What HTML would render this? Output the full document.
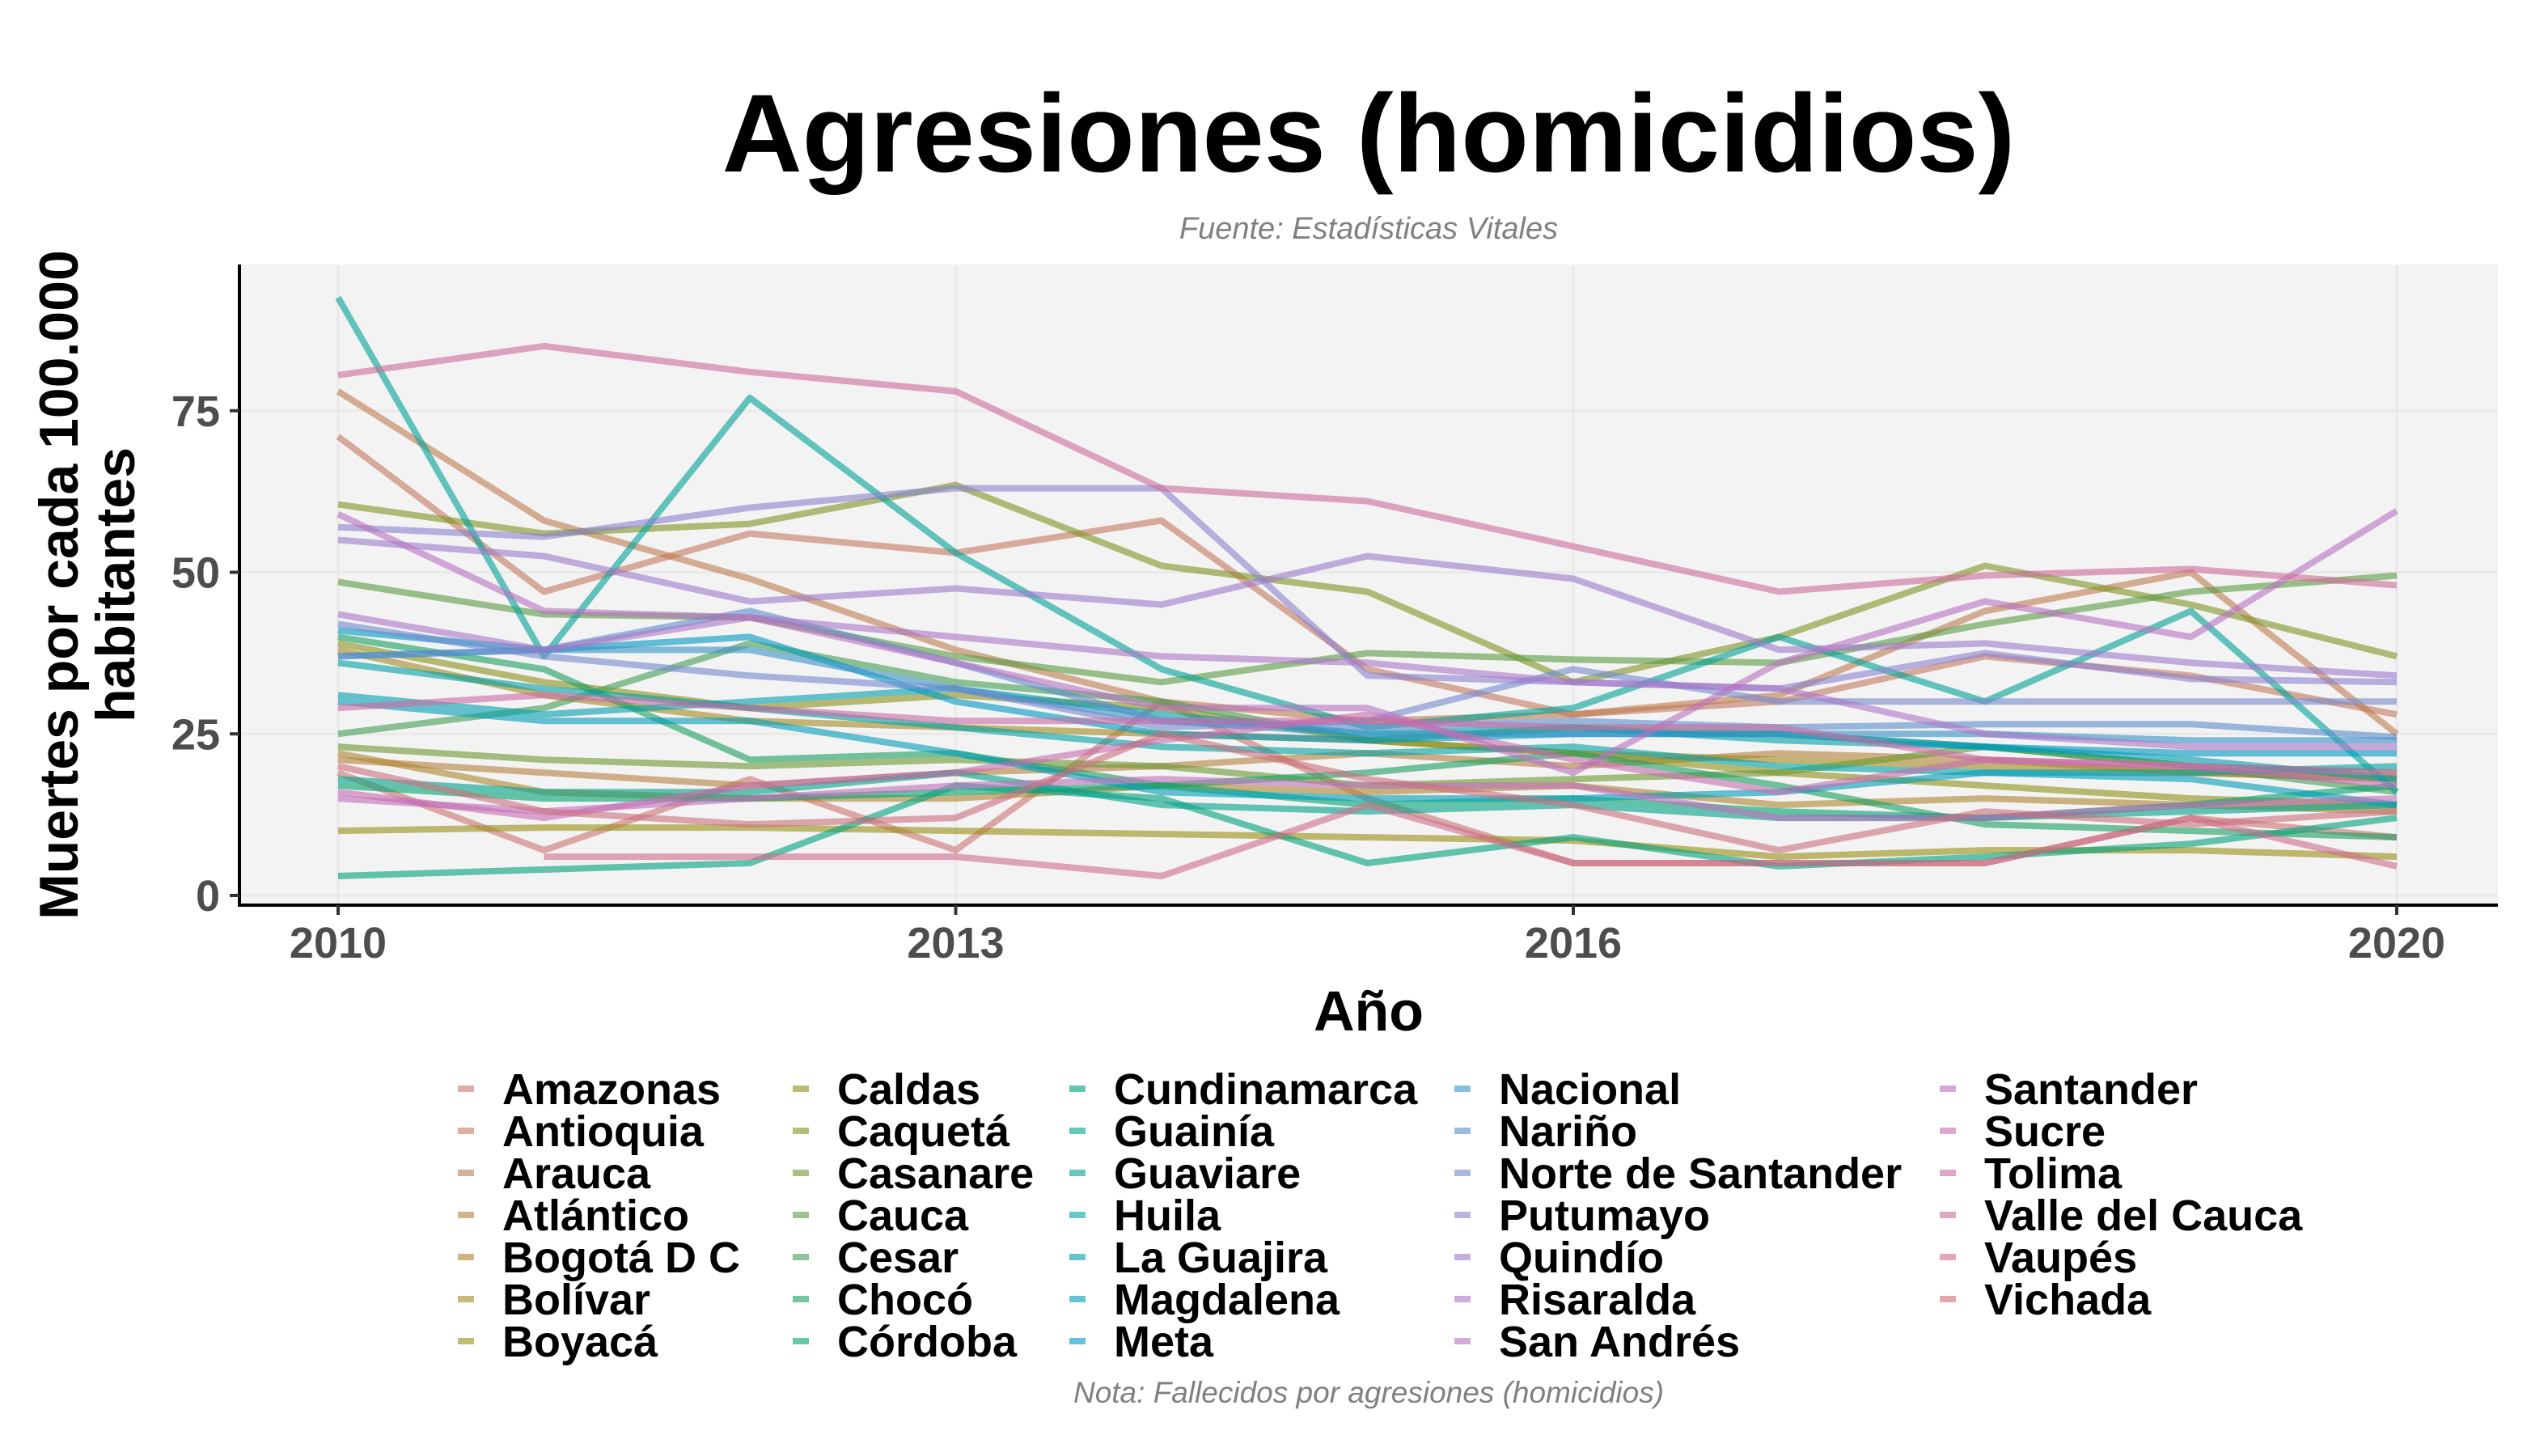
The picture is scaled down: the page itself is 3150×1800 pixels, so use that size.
<!DOCTYPE html>
<html><head><meta charset="utf-8"><style>
html,body{margin:0;padding:0;background:#fff;}
svg{display:block;font-family:"Liberation Sans",sans-serif;}
</style></head><body>
<svg id="chart" width="3150" height="1800" viewBox="0 0 3150 1800" xmlns="http://www.w3.org/2000/svg">
<rect x="0" y="0" width="3150" height="1800" fill="#ffffff"/>
<text x="1692" y="212" text-anchor="middle" font-size="137" font-weight="bold" fill="#000">Agresiones (homicidios)</text>
<text x="1692" y="295" text-anchor="middle" font-size="38" font-style="italic" fill="#808080">Fuente: Estadísticas Vitales</text>
<rect x="296" y="327" width="2792" height="792" fill="#f3f3f3"/>
<g id="grid"></g>
<g id="series"></g>
<line x1="296" y1="327" x2="296" y2="1121" stroke="#000" stroke-width="4"/>
<line x1="294" y1="1119" x2="3088" y2="1119" stroke="#000" stroke-width="4"/>
<g id="axes"></g>
<text transform="translate(98,723) rotate(-90)" text-anchor="middle" font-size="68" font-weight="bold" fill="#000"><tspan x="0" y="-2">Muertes por cada 100.000</tspan><tspan x="0" y="68">habitantes</tspan></text>
<text x="1692" y="1274" text-anchor="middle" font-size="70" font-weight="bold" fill="#000">Año</text>
<g id="legend"></g>
<text x="1692" y="1734" text-anchor="middle" font-size="37" font-style="italic" fill="#808080">Nota: Fallecidos por agresiones (homicidios)</text>
</svg>
<script>
const years = [2010,2011,2012,2013,2014,2015,2016,2017,2018,2019,2020];
const names = ["Amazonas","Antioquia","Arauca","Atlántico","Bogotá D C","Bolívar","Boyacá","Caldas","Caquetá","Casanare","Cauca","Cesar","Chocó","Córdoba","Cundinamarca","Guainía","Guaviare","Huila","La Guajira","Magdalena","Meta","Nacional","Nariño","Norte de Santander","Putumayo","Quindío","Risaralda","San Andrés","Santander","Sucre","Tolima","Valle del Cauca","Vaupés","Vichada"];
const vAmazonas = [19,7,18,7,30,15,5,5,5,12,9];
const vAntioquia = [71,47,56,53,58,35,28,30,37,34,28];
const vArauca = [78,58,49,38,30,27,28,31,44,50,25];
const vAtlantico = [21,19,17,19,20,22,20,22,21,19,18];
const vBogota = [22,16,15,15,17,16,17,14,15,14,13];
const vBolivar = [38,31,27,26,25,24,22,21,20,19,18];
const vBoyaca = [10,10.5,10.5,10,9.5,9,8.5,6,7,7,6];
const vCaldas = [39,33,29,31,29,24,22,19,17,15,14];
const vCaqueta = [60.5,56,57.5,63.5,51,47,33,40,51,45,37];
const vCasanare = [23,21,20,21,20,17,18,19,23,20,19];
const vCauca = [48.5,43.5,43,37,33,37.5,36.5,36,42,47,49.5];
const vCesar = [25,29,39,33,30,24,26,25,23,20,16];
const vChoco = [40,35,21,22,17,19,22,17,11,10,9];
const vCordoba = [17,15,15,16,17,14,15,13,12,14,17];
const vCundinamarca = [3,4,5,17,15,5,9,4.5,6,8,12];
const vGuainia = [18,16,16,19,14,13,14,12,12,13,14];
const vGuaviare = [92.5,37,77,53,35,26,29,40,30,44,16];
const vHuila = [36,32,29,26,23,22,23,20,19,19,20];
const vGuajira = [31,28,30,32,28,25,26,24,23,21,18];
const vMagdalena = [30,27,27,22,16,15,15,16,19,18,14];
const vMeta = [41,38,40,30,25,24,25,25,23,22,22];
const vNacional = [37,38,38,32,27,25,25,25,25,24,24];
const vNarino = [37,38,44,36,27,26,27,26,26.5,26.5,24.5];
const vNorte = [42,37,34,32,26,27,35,30,30,30,30];
const vPutumayo = [57,55.5,60,63,63,34,33,32,37.5,33.5,33];
const vQuindio = [55,52.5,45.5,47.5,45,52.5,49,38,39,36,34];
const vRisaralda = [43.5,38,43,40,37,36,33,32,25,23,23];
const vSanAndres = [59,44,43,36,29,29,19,36,45.5,40,59.5];
const vSantander = [15,13,15,17,18,17,17,12,12,14,15];
const vSucre = [16,12,17,19,24,28,21,16,21,20,17];
const vTolima = [29,31,29,27,27,27,26,26,21,20,19];
const vValle = [80.5,85,81,78,63,61,54,47,49.5,50.5,48];
const vVaupes = [null,6,6,6,3,14,5,5,5,12,4.5];
const vVichada = [20,13,11,12,25,18,14,7,13,11,13];
const seriesValues = [vAmazonas,vAntioquia,vArauca,vAtlantico,vBogota,vBolivar,vBoyaca,vCaldas,vCaqueta,vCasanare,vCauca,vCesar,vChoco,vCordoba,vCundinamarca,vGuainia,vGuaviare,vHuila,vGuajira,vMagdalena,vMeta,vNacional,vNarino,vNorte,vPutumayo,vQuindio,vRisaralda,vSanAndres,vSantander,vSucre,vTolima,vValle,vVaupes,vVichada];
const xTicks = [2010,2013,2016,2020];
const yTicks = [0,25,50,75];

const NS = "http://www.w3.org/2000/svg";
function xs(y){ return 418 + (y-2010)*254.5; }
function ys(v){ return 1107 - v*7.99; }
function hcl(h){
  const L=58,C=62,hr=h*Math.PI/180;
  const u=C*Math.cos(hr), v=C*Math.sin(hr);
  const Y=Math.pow((L+16)/116,3);
  const Xn=0.95047,Yn=1,Zn=1.08883;
  const un=4*Xn/(Xn+15*Yn+3*Zn), vn=9*Yn/(Xn+15*Yn+3*Zn);
  const up=u/(13*L)+un, vp=v/(13*L)+vn;
  const X=Y*9*up/(4*vp), Z=Y*(12-3*up-20*vp)/(4*vp);
  let r=3.2406*X-1.5372*Y-0.4986*Z, g=-0.9689*X+1.8758*Y+0.0415*Z, b=0.0557*X-0.2040*Y+1.0570*Z;
  const gm=c=>{c=c<=0.0031308?12.92*c:1.055*Math.pow(c,1/2.4)-0.055;return Math.round(Math.max(0,Math.min(1,c))*255);};
  return "rgb("+gm(r)+","+gm(g)+","+gm(b)+")";
}
const n = names.length;
const colors = names.map((_,i)=>hcl(15+i*360/n));

const grid = document.getElementById("grid");
yTicks.forEach(t=>{
  const l=document.createElementNS(NS,"line");
  l.setAttribute("x1",296);l.setAttribute("x2",3088);l.setAttribute("y1",ys(t));l.setAttribute("y2",ys(t));
  l.setAttribute("stroke","#e9e9e9");l.setAttribute("stroke-width","3");
  
  
  grid.appendChild(l);
});
xTicks.forEach(t=>{
  const l=document.createElementNS(NS,"line");
  l.setAttribute("x1",xs(t));l.setAttribute("x2",xs(t));l.setAttribute("y1",327);l.setAttribute("y2",1119);
  l.setAttribute("stroke","#e9e9e9");l.setAttribute("stroke-width","3");
  
  
  grid.appendChild(l);
});

const sg = document.getElementById("series");
seriesValues.forEach((vals,i)=>{
  let d="",started=false;
  vals.forEach((v,j)=>{
    if(v===null){started=false;return;}
    d+=(started?"L":"M")+xs(years[j]).toFixed(1)+","+ys(v).toFixed(1)+" ";
    started=true;
  });
  const p=document.createElementNS(NS,"path");
  p.setAttribute("d",d);p.setAttribute("fill","none");p.setAttribute("stroke",colors[i]);
  p.setAttribute("stroke-width","8");p.setAttribute("stroke-opacity","0.6");p.setAttribute("stroke-linejoin","round");
  
  
  sg.appendChild(p);
});

const ax = document.getElementById("axes");
yTicks.forEach(t=>{
  const l=document.createElementNS(NS,"line");
  l.setAttribute("x1",284);l.setAttribute("x2",296);l.setAttribute("y1",ys(t));l.setAttribute("y2",ys(t));
  l.setAttribute("stroke","#333");l.setAttribute("stroke-width","4");
  
  
  ax.appendChild(l);
  const tx=document.createElementNS(NS,"text");
  tx.setAttribute("x",272);tx.setAttribute("y",ys(t)+19);tx.setAttribute("text-anchor","end");
  tx.setAttribute("font-size","54");tx.setAttribute("font-weight","bold");tx.setAttribute("fill","#4d4d4d");
  tx.textContent=t;
  
  
  ax.appendChild(tx);
});
xTicks.forEach(t=>{
  const l=document.createElementNS(NS,"line");
  l.setAttribute("x1",xs(t));l.setAttribute("x2",xs(t));l.setAttribute("y1",1119);l.setAttribute("y2",1131);
  l.setAttribute("stroke","#333");l.setAttribute("stroke-width","4");
  
  
  ax.appendChild(l);
  const tx=document.createElementNS(NS,"text");
  tx.setAttribute("x",xs(t));tx.setAttribute("y",1184);tx.setAttribute("text-anchor","middle");
  tx.setAttribute("font-size","54");tx.setAttribute("font-weight","bold");tx.setAttribute("fill","#4d4d4d");
  tx.textContent=t;
  
  
  ax.appendChild(tx);
});

const lg = document.getElementById("legend");
const colKeyX = [566,980,1322,1798,2398];
names.forEach((nm,i)=>{
  const c=Math.floor(i/7), r=i%7;
  const cy=1346+r*52;
  const k=document.createElementNS(NS,"line");
  k.setAttribute("x1",colKeyX[c]);k.setAttribute("x2",colKeyX[c]+20);k.setAttribute("y1",cy);k.setAttribute("y2",cy);
  k.setAttribute("stroke",colors[i]);k.setAttribute("stroke-width","8");k.setAttribute("stroke-opacity","0.6");
  
  
  lg.appendChild(k);
  const tx=document.createElementNS(NS,"text");
  tx.setAttribute("x",colKeyX[c]+55);tx.setAttribute("y",cy+19);
  tx.setAttribute("font-size","54");tx.setAttribute("font-weight","bold");tx.setAttribute("fill","#000");
  tx.textContent=nm;
  
  
  lg.appendChild(tx);
});
</script>
</body></html>
